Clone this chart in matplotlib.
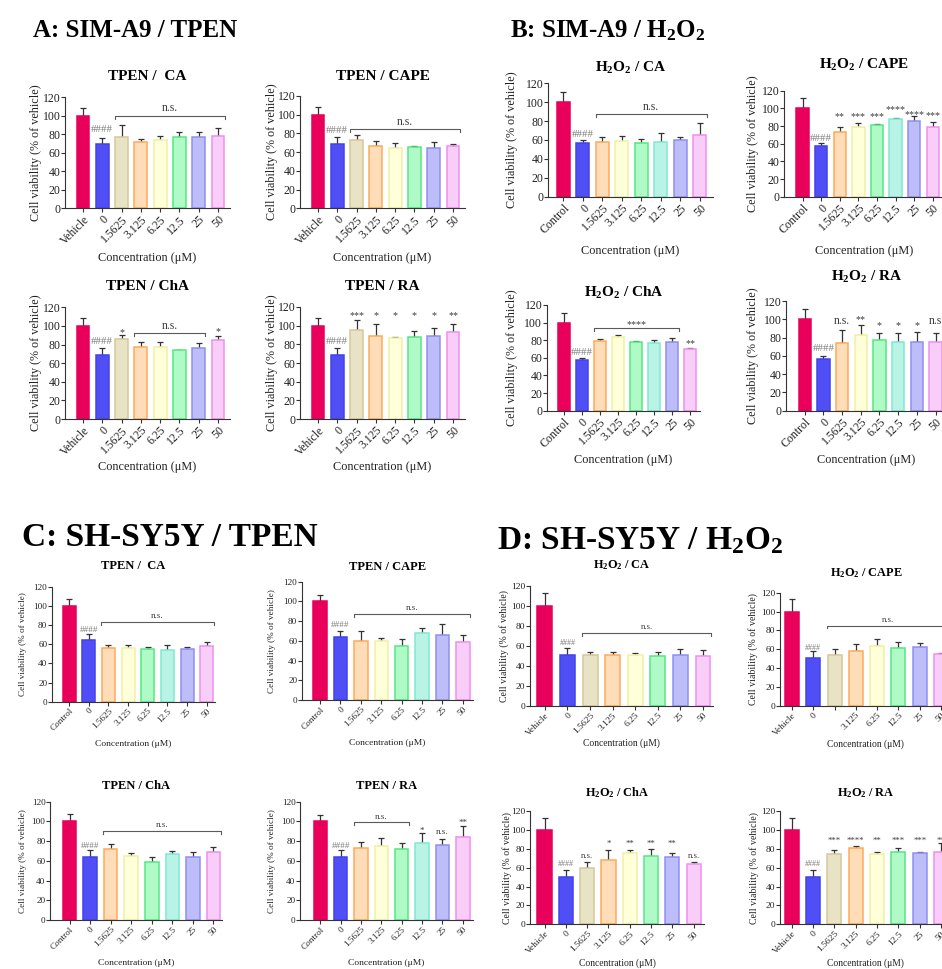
import matplotlib
matplotlib.use("Agg")
import matplotlib.pyplot as plt
from matplotlib.transforms import ScaledTranslation

plt.rcParams['font.family'] = ['Liberation Serif', 'DejaVu Serif']
plt.rcParams['mathtext.fontset'] = 'custom'
plt.rcParams['mathtext.rm'] = 'Liberation Serif'
plt.rcParams['mathtext.it'] = 'Liberation Serif:italic'
plt.rcParams['mathtext.bf'] = 'Liberation Serif:bold'

# ---------------------------------------------------------------- data
conc_labels = ["0", "1.5625", "3.125", "6.25", "12.5", "25", "50"]

# SIM-A9 / TPEN
a_ca_mean = [100, 69, 77.5, 71.5, 74, 77.5, 77.5, 78]
a_ca_err = [8, 7, 12.5, 3, 4.5, 5, 5.5, 9]
a_cape_mean = [100, 69, 73, 67, 64, 66, 64.5, 67]
a_cape_err = [8, 7, 5, 4.5, 6, 0.8, 6.5, 1.2]
a_cha_mean = [100, 69, 86, 77.5, 77, 74, 76.5, 85]
a_cha_err = [8, 7, 4, 5, 5.5, 0.6, 5, 4]
a_ra_mean = [100, 69, 95.5, 89, 86.5, 87.5, 88.5, 93]
a_ra_err = [8, 7, 10.5, 12.5, 1, 7, 9, 9]

# SIM-A9 / H2O2
b_ca_mean = [100, 57, 57.5, 58.5, 56.5, 57.5, 59.5, 65]
b_ca_err = [10.5, 2.5, 6, 5.5, 4.5, 10, 4, 13]
b_cape_mean = [100, 57.4, 73.6, 78.5, 80.8, 87.6, 85.7, 78.5]
b_cape_err = [11.4, 3, 5.7, 5.3, 1.8, 1.5, 5.3, 5.7]
b_cha_mean = [100, 57, 79, 83.5, 78.5, 77, 78.5, 70]
b_cha_err = [10.5, 2.5, 2.5, 2, 0.6, 3.5, 4.2, 1]
b_ra_mean = [100, 57, 74, 82.5, 77, 75, 75, 75]
b_ra_err = [11, 3, 14, 11, 8.5, 10.5, 11, 9.5]

# SH-SY5Y / TPEN
c_ca_mean = [100, 64, 56.3, 56.3, 54.6, 54, 54.6, 58.4]
c_ca_err = [7, 6.6, 2.5, 2.7, 2.1, 4.8, 2.1, 3.6]
c_cape_mean = [100, 63.6, 60.2, 59.8, 54.8, 68.3, 65.9, 59.2]
c_cape_err = [6.8, 6.7, 9.8, 2.7, 7.1, 5.1, 11.5, 6.7]
c_cha_mean = [100, 64, 72, 65.2, 58.8, 66.9, 63.6, 69.3]
c_cha_err = [7.2, 6.8, 5, 2.4, 4.7, 3.1, 5, 5.1]
c_ra_mean = [100, 64, 72.7, 75, 72.3, 77.7, 76, 84.5]
c_ra_err = [7, 7, 6.3, 8.5, 5.4, 10.2, 5.8, 10.8]

# SH-SY5Y / H2O2
d_ca_mean = [100, 50.9, 50.5, 50.9, 51.2, 49.9, 50.9, 50.2]
d_ca_err = [12.5, 6.6, 3.7, 3.3, 2, 4.3, 6.3, 5.7]
d_cape_mean = [100, 51, 54.2, 58.4, 63.4, 61.6, 62.7, 54.5]
d_cape_err = [13, 7, 5.6, 6.7, 7, 5.7, 3.8, 1.1]
d_cha_mean = [100, 50.5, 60, 68.1, 75.9, 72.7, 71.7, 63.5]
d_cha_err = [12.3, 7, 6.4, 10.6, 2.8, 7.1, 3.5, 2.9]
d_ra_mean = [100, 50.5, 74.5, 80.5, 74.1, 77, 75.9, 76.2]
d_ra_err = [12.3, 7, 4.2, 2.8, 2.9, 4.2, 1.1, 10.3]

# significance marks: (bar index, text, height)
a_cha_marks = [(2, "*", 96), (7, "*", 96.5)]
a_ra_marks = [(2, "***", 113), (3, "*", 113), (4, "*", 113), (5, "*", 113),
              (6, "*", 113), (7, "**", 113)]
b_cape_marks = [(2, "**", 93.3), (3, "***", 93.3), (4, "***", 93.3),
                (5, "****", 101.9), (6, "****", 95.5), (7, "***", 94.4)]
b_cha_marks = [(7, "**", 79)]
b_ra_marks = [(2, "n.s.", 97.4), (3, "**", 102), (4, "*", 95.5), (5, "*", 95.5),
              (6, "*", 95.5), (7, "n.s", 97.4)]
c_ra_marks = [(5, "*", 93), (6, "n.s.", 89.6), (7, "**", 101.4)]
d_cha_marks = [(2, "n.s.", 72.7), (3, "*", 87.5), (4, "**", 87.5), (5, "**", 87.5),
               (6, "**", 87.5), (7, "n.s.", 72.7)]
d_ra_marks = [(2, "***", 90.4), (3, "****", 90.4), (4, "**", 90.4), (5, "***", 90.4),
              (6, "***", 90.4), (7, "**", 90.4)]

# brackets: (first bar, last bar, height, text)
a_ca_bracket = (2, 7, 100, "n.s.")
a_cape_bracket = (2, 7, 84.3, "n.s.")
a_cha_bracket = (3, 6, 92, "n.s.")
b_ca_bracket = (2, 7, 87, "n.s.")
b_cha_bracket = (2, 6, 93.6, "****")
c_ca_bracket = (2, 7, 82.8, "n.s.")
c_cape_bracket = (2, 7, 86.9, "n.s.")
c_cha_bracket = (2, 7, 90.3, "n.s.")
c_ra_bracket = (2, 4, 99, "n.s.")
d_ca_bracket = (2, 7, 73.1, "n.s.")
d_cape_bracket = (2, 7, 85, "n.s.")

# ---------------------------------------------------------------- colours
RED = ("#E8005A", "#E8005A")
BLUE = ("#4F4FF5", "#4343EE")
TAN = ("#E9E3C6", "#D5C89A")
ORANGE = ("#FFDDB9", "#FFAA58")
YELLOW = ("#FFFFD9", "#F0F0A6")
GREEN = ("#B0FAC8", "#55E882")
TEAL = ("#B9F3E5", "#7FE9D2")
LAVENDER = ("#BDBDFA", "#8F8FF2")
PINK = ("#F8CEF8", "#EF8FEF")
PAL_TAN = [RED, BLUE, TAN, ORANGE, YELLOW, GREEN, LAVENDER, PINK]
PAL_TEAL = [RED, BLUE, ORANGE, YELLOW, GREEN, TEAL, LAVENDER, PINK]

H2O2 = r"H$_\mathbf{2}$O$_\mathbf{2}$"

W, H = 942, 969
fig = plt.figure(figsize=(W / 100, H / 100), dpi=100)

BIG = dict(tick=8.5, ylab=8.7, xlab=8.8, title=11, star=7.2, hsh=7.8, ns=8.4)
SMALL_C = dict(tick=6.6, ylab=6.6, xlab=6.8, title=9, star=6.5, hsh=6.6, ns=6.6)
SMALL_D = dict(tick=6.8, ylab=7.1, xlab=6.9, title=8.8, star=6.3, hsh=5.8, ns=6.3)

# panel layout in pixels: left, right, y of 0, y of 120
panels = [
    dict(title="TPEN /  CA", first="Vehicle", mean=a_ca_mean, err=a_ca_err, pal=PAL_TAN,
         box=(65, 230, 208.3, 97.3), xlim=(-0.93, 7.62), ty=76.7, xly=258, ylx=36,
         hash_y=86, bracket=a_ca_bracket, marks=[], fs=BIG),
    dict(title="TPEN / CAPE", first="Vehicle", mean=a_cape_mean, err=a_cape_err, pal=PAL_TAN,
         box=(300, 465, 208.3, 96), xlim=(-0.93, 7.62), ty=76.7, xly=258, ylx=271.7,
         hash_y=84.3, bracket=a_cape_bracket, marks=[], fs=BIG),
    dict(title="TPEN / ChA", first="Vehicle", mean=a_cha_mean, err=a_cha_err, pal=PAL_TAN,
         box=(65, 230, 419, 307.3), xlim=(-0.93, 7.62), ty=286.7, xly=467, ylx=36,
         hash_y=84, bracket=a_cha_bracket, marks=a_cha_marks, fs=BIG),
    dict(title="TPEN / RA", first="Vehicle", mean=a_ra_mean, err=a_ra_err, pal=PAL_TAN,
         box=(300, 465, 419, 307), xlim=(-0.93, 7.62), ty=286.7, xly=467, ylx=271.7,
         hash_y=84, bracket=None, marks=a_ra_marks, fs=BIG),
    dict(title=H2O2 + " / CA", first="Control", mean=b_ca_mean, err=b_ca_err, pal=PAL_TEAL,
         box=(548, 713, 196.7, 83.3), xlim=(-0.79, 7.67), ty=68.3, xly=250.7, ylx=511.7,
         hash_y=67.5, bracket=b_ca_bracket, marks=[], fs=BIG),
    dict(title=H2O2 + " / CAPE", first="Control", mean=b_cape_mean, err=b_cape_err, pal=PAL_TEAL,
         box=(784, 944, 196.7, 90.7), xlim=(-1.0, 7.6), ty=65, xly=250.7, ylx=753,
         hash_y=67.2, bracket=None, marks=b_cape_marks, fs=BIG),
    dict(title=H2O2 + " / ChA", first="Control", mean=b_cha_mean, err=b_cha_err, pal=PAL_TEAL,
         box=(546.7, 700.4, 410.7, 305), xlim=(-0.94, 7.55), ty=293.3, xly=460, ylx=511.7,
         hash_y=67, bracket=b_cha_bracket, marks=b_cha_marks, fs=BIG),
    dict(title=H2O2 + " / RA", first="Control", mean=b_ra_mean, err=b_ra_err, pal=PAL_TEAL,
         box=(786, 946.8, 410.7, 301), xlim=(-1.0, 7.6), ty=276.7, xly=460, ylx=753.3,
         hash_y=69, bracket=None, marks=b_ra_marks, fs=BIG),
    dict(title="TPEN /  CA", first="Control", mean=c_ca_mean, err=c_ca_err, pal=PAL_TEAL,
         box=(51.7, 215, 701.7, 586.7), xlim=(-0.88, 7.42), ty=566, xly=744.3, ylx=22.7,
         hash_y=75.8, bracket=c_ca_bracket, marks=[], fs=SMALL_C),
    dict(title="TPEN / CAPE", first="Control", mean=c_cape_mean, err=c_cape_err, pal=PAL_TEAL,
         box=(301.7, 473, 700, 581.7), xlim=(-0.9, 7.5), ty=566.7, xly=743.3, ylx=271.7,
         hash_y=77.7, bracket=c_cape_bracket, marks=[], fs=SMALL_C),
    dict(title="TPEN / ChA", first="Control", mean=c_cha_mean, err=c_cha_err, pal=PAL_TEAL,
         box=(50, 221.7, 920, 801.7), xlim=(-0.95, 7.4), ty=786, xly=963.3, ylx=22.7,
         hash_y=76, bracket=c_cha_bracket, marks=[], fs=SMALL_C),
    dict(title="TPEN / RA", first="Control", mean=c_ra_mean, err=c_ra_err, pal=PAL_TEAL,
         box=(300, 473, 920, 801.7), xlim=(-1.0, 7.5), ty=786, xly=963.3, ylx=271.7,
         hash_y=76, bracket=c_ra_bracket, marks=c_ra_marks, fs=SMALL_C),
    dict(title=H2O2 + " / CA", first="Vehicle", mean=d_ca_mean, err=d_ca_err, pal=PAL_TAN,
         box=(530, 712.7, 706, 585.7), xlim=(-0.66, 7.43), ty=565, xly=742.7, ylx=504,
         hash_y=64, bracket=d_ca_bracket, marks=[], fs=SMALL_D),
    dict(title=H2O2 + " / CAPE", first="Vehicle", mean=d_cape_mean, err=d_cape_err, pal=PAL_TAN,
         box=(780, 951.7, 705.7, 592.7), xlim=(-0.56, 7.5), ty=573.3, xly=744, ylx=752.7,
         hash_y=62, bracket=d_cape_bracket, marks=[], fs=SMALL_D, hide_tick=1),
    dict(title=H2O2 + " / ChA", first="Vehicle", mean=d_cha_mean, err=d_cha_err, pal=PAL_TAN,
         box=(530, 704, 924.3, 811), xlim=(-0.68, 7.48), ty=792.7, xly=963.3, ylx=507.3,
         hash_y=64.6, bracket=None, marks=d_cha_marks, fs=SMALL_D),
    dict(title=H2O2 + " / RA", first="Vehicle", mean=d_ra_mean, err=d_ra_err, pal=PAL_TAN,
         box=(780, 951.7, 924.3, 811), xlim=(-0.55, 7.5), ty=792.7, xly=963.3, ylx=754,
         hash_y=64.6, bracket=None, marks=d_ra_marks, fs=SMALL_D),
]

AXIS_COL = "#333333"
STAR_COL = "#3c3c3c"
HASH_COL = "#7c7c7c"
BRACKET_COL = "#5a5a5a"


def put_label(ax, x, y, s, fs, color):
    """Place annotation text so that its visible glyphs centre on y."""
    if set(s) == {"*"}:
        k = 0.50
    elif s.startswith("#"):
        k = 0.34
    else:
        k = 0.22
    off = ScaledTranslation(0, -k * fs / 72, fig.dpi_scale_trans)
    ax.text(x, y, s, fontsize=fs, color=color, ha="center", va="baseline",
            transform=ax.transData + off, clip_on=False)


for p in panels:
    left, right, y0, y120 = p["box"]
    fs = p["fs"]
    ax = fig.add_axes([left / W, 1 - y0 / H, (right - left) / W, (y0 - y120) / H])
    n = len(p["mean"])
    xs = list(range(n))
    fills = [c[0] for c in p["pal"]]
    edges = [c[1] for c in p["pal"]]
    ax.bar(xs, p["mean"], width=0.66, color=fills, edgecolor=edges, linewidth=1.1, zorder=2)
    ax.errorbar(xs, p["mean"], yerr=[[0] * n, p["err"]], fmt="none", ecolor=AXIS_COL,
                elinewidth=0.9, capsize=1.9, capthick=0.9, zorder=1)

    ax.set_xlim(*p["xlim"])
    ax.set_ylim(0, 120)
    ax.set_yticks(range(0, 121, 20))
    labels = [p["first"]] + conc_labels
    if "hide_tick" in p:
        labels[p["hide_tick"] + 1] = ""
    ax.set_xticks(xs)
    ax.set_xticklabels(labels, rotation=45, ha="right", rotation_mode="anchor")
    ax.tick_params(axis="both", labelsize=fs["tick"], length=2.6, width=0.8,
                   color=AXIS_COL, pad=1.2, labelcolor="#222222")
    ax.tick_params(axis="y", pad=0.6)
    for side in ("top", "right"):
        ax.spines[side].set_visible(False)
    for side in ("left", "bottom"):
        ax.spines[side].set_color(AXIS_COL)
        ax.spines[side].set_linewidth(0.8)
    ax.set_facecolor("none")

    hpx = y0 - y120
    ax.set_xlabel("Concentration (μM)", fontsize=fs["xlab"], va="center", color="#222222")
    ax.xaxis.set_label_coords(0.5, -(p["xly"] - y0) / hpx)
    ax.set_ylabel("Cell viability (% of vehicle)", fontsize=fs["ylab"], va="center",
                  color="#222222")
    ax.yaxis.set_label_coords(-(left - p["ylx"]) / (right - left), 0.5)

    fig.text((left + right) / 2 / W, 1 - p["ty"] / H, p["title"], fontsize=fs["title"],
             fontweight="bold", ha="center", va="center")

    put_label(ax, 1, p["hash_y"], "####", fs["hsh"], HASH_COL)

    if p["bracket"] is not None:
        i0, i1, yb, txt = p["bracket"]
        xa, xb = i0 - 0.35, i1 + 0.35
        tick = 3.0
        ax.plot([xa, xa, xb, xb], [yb - tick, yb, yb, yb - tick], color=BRACKET_COL,
                lw=0.8, clip_on=False, zorder=3)
        if set(txt) == {"*"}:
            lift = 1.0
            size = fs["star"]
        else:
            lift = 3.5 if fs is BIG else 2.8
            size = fs["ns"]
        off = ScaledTranslation(0, lift / 72, fig.dpi_scale_trans)
        ax.text((xa + xb) / 2, yb, txt, fontsize=size, color=STAR_COL, ha="center",
                va="baseline", transform=ax.transData + off, clip_on=False)

    for i, txt, yv in p["marks"]:
        size = fs["star"] if set(txt) == {"*"} else fs["ns"]
        put_label(ax, i, yv, txt, size, STAR_COL)

# section headings
fig.text(33 / W, 1 - 37 / H, "A: SIM-A9 / TPEN", fontsize=18, fontweight="bold",
         va="baseline")
fig.text(510 / W, 1 - 37 / H, "B: SIM-A9 / " + H2O2, fontsize=18, fontweight="bold",
         va="baseline")
fig.text(22 / W, 1 - 546 / H, "C: SH-SY5Y / TPEN", fontsize=24, fontweight="bold",
         va="baseline")
fig.text(497 / W, 1 - 549 / H, "D: SH-SY5Y / " + H2O2, fontsize=24, fontweight="bold",
         va="baseline")

fig.savefig("out.png", dpi=100, facecolor="white")
